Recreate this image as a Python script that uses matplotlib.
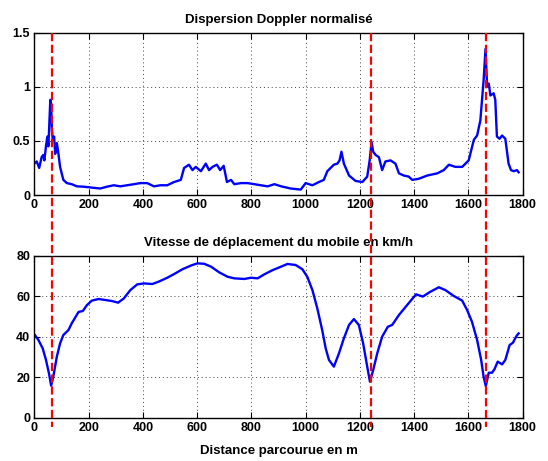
import numpy as np
import matplotlib
matplotlib.use("Agg")
import matplotlib.pyplot as plt
from matplotlib.lines import Line2D
from matplotlib.transforms import blended_transform_factory

plt.rcParams['font.family'] = ['Liberation Sans', 'DejaVu Sans']
plt.rcParams['font.weight'] = 'bold'

# normalised Doppler spread vs distance (m)
disp_x = [0, 9, 18, 27, 33, 37, 43, 48, 52, 56, 59, 62, 65, 68, 73, 77, 83, 89, 95,
          107, 120, 138, 157, 181, 206, 243, 268, 293, 317, 342, 367, 391, 416, 441,
          465, 490, 515, 540, 552, 570, 583, 595, 614, 632, 644, 657, 673, 685, 698,
          710, 725, 737, 762, 786, 811, 835, 860, 885, 910, 945, 982, 1000, 1025,
          1049, 1067, 1080, 1092, 1104, 1117, 1125, 1132, 1141, 1160, 1184, 1209,
          1227, 1236, 1243, 1249, 1258, 1270, 1282, 1294, 1313, 1331, 1344, 1362,
          1380, 1393, 1417, 1448, 1485, 1509, 1528, 1552, 1577, 1601, 1620, 1632,
          1644, 1656, 1663, 1669, 1675, 1681, 1693, 1699, 1705, 1715, 1724, 1736,
          1748, 1757, 1767, 1779, 1785]
disp_y = [0.29, 0.31, 0.25, 0.35, 0.37, 0.32, 0.45, 0.54, 0.45, 0.70, 0.88, 0.84, 0.60,
          0.51, 0.54, 0.38, 0.48, 0.38, 0.26, 0.14, 0.11, 0.10, 0.08, 0.077, 0.07,
          0.06, 0.077, 0.09, 0.08, 0.09, 0.10, 0.11, 0.11, 0.08, 0.09, 0.09, 0.12,
          0.14, 0.25, 0.28, 0.23, 0.26, 0.22, 0.29, 0.23, 0.26, 0.28, 0.23, 0.27,
          0.12, 0.14, 0.10, 0.11, 0.11, 0.10, 0.09, 0.08, 0.10, 0.08, 0.06, 0.05,
          0.11, 0.09, 0.12, 0.14, 0.22, 0.25, 0.28, 0.29, 0.32, 0.40, 0.29, 0.18,
          0.13, 0.12, 0.17, 0.32, 0.49, 0.40, 0.37, 0.35, 0.23, 0.31, 0.32, 0.29,
          0.20, 0.18, 0.17, 0.14, 0.15, 0.18, 0.20, 0.23, 0.28, 0.26, 0.26, 0.32,
          0.51, 0.55, 0.69, 1.06, 1.35, 1.00, 1.03, 0.92, 0.94, 0.88, 0.54, 0.52,
          0.55, 0.52, 0.29, 0.23, 0.22, 0.23, 0.21]

# speed of the mobile (km/h) vs distance (m)
speed_x = [0, 15, 31, 43, 54, 62, 70, 83, 95, 107, 126, 138, 151, 163, 179, 194, 212,
           237, 262, 286, 309, 330, 354, 379, 404, 435, 459, 490, 515, 546, 577, 601,
           626, 651, 681, 712, 737, 774, 799, 823, 848, 879, 910, 933, 963, 988, 1006,
           1025, 1043, 1061, 1074, 1086, 1104, 1123, 1141, 1160, 1178, 1196, 1212,
           1227, 1237, 1249, 1264, 1282, 1303, 1319, 1344, 1374, 1407, 1432, 1460,
           1491, 1515, 1546, 1577, 1595, 1613, 1632, 1647, 1656, 1664, 1675, 1687,
           1696, 1708, 1724, 1736, 1752, 1764, 1777, 1785]
speed_y = [41.2, 38.4, 34.2, 28.5, 21.9, 15.8, 20.2, 30.1, 36.7, 40.8, 43.3, 46.6,
           49.5, 52.2, 52.7, 55.6, 57.8, 58.6, 58.1, 57.6, 56.8, 58.9, 63.0, 65.8,
           66.3, 66.0, 67.2, 69.1, 70.9, 73.3, 75.1, 76.2, 76.0, 74.6, 71.8, 69.6,
           68.8, 68.5, 69.1, 68.8, 70.8, 72.9, 74.6, 75.9, 75.4, 73.3, 69.6, 63.0,
           54.0, 43.3, 34.2, 28.5, 25.2, 31.8, 39.2, 45.8, 48.7, 45.8, 36.7, 25.2,
           17.8, 23.5, 31.8, 40.0, 44.9, 45.8, 50.7, 55.6, 60.9, 59.8, 62.2, 64.4,
           63.0, 60.1, 57.8, 53.2, 47.4, 38.4, 28.5, 20.2, 15.6, 22.2, 22.2, 23.9,
           27.7, 26.3, 28.5, 35.9, 37.0, 40.3, 41.6]

# distances of the marked events (red dashed lines)
event_x = [64, 1242, 1666]

xticks = [0, 200, 400, 600, 800, 1000, 1200, 1400, 1600, 1800]

fig = plt.figure(figsize=(5.48, 4.61), dpi=100)
ax1 = fig.add_axes([0.0626, 0.577, 0.8912, 0.352])
ax2 = fig.add_axes([0.0626, 0.094, 0.8912, 0.3514])

ax1.plot(disp_x, disp_y, color=(0, 0, 1), lw=1.7)
ax1.set_ylim(0, 1.5)
ax1.set_yticks([0, 0.5, 1, 1.5])
ax1.set_yticklabels(['0', '0.5', '1', '1.5'])
ax1.set_title('Dispersion Doppler normalisé', fontsize=9.5, fontweight='bold', pad=7)

ax2.plot(speed_x, speed_y, color=(0, 0, 1), lw=1.7)
ax2.set_ylim(0, 80)
ax2.set_yticks([0, 20, 40, 60, 80])
ax2.set_title('Vitesse de déplacement du mobile en km/h', fontsize=9.5, fontweight='bold', pad=7)
ax2.set_xlabel('Distance parcourue en m', fontsize=9.5, fontweight='bold', labelpad=8)

for ax in (ax1, ax2):
    ax.set_xlim(0, 1800)
    ax.set_xticks(xticks)
    ax.grid(True, linestyle=(0, (1, 3)), color='#444444', lw=0.7)
    ax.tick_params(direction='in', top=True, right=True, length=4, width=0.8,
                   labelsize=9, pad=3)
    for lab in ax.get_xticklabels() + ax.get_yticklabels():
        lab.set_fontweight('bold')
    for sp in ax.spines.values():
        sp.set_linewidth(1.0)

# dashed red markers crossing both panels
trans = blended_transform_factory(ax1.transData, fig.transFigure)
for ex in event_x:
    fig.add_artist(Line2D([ex, ex], [0.929, 0.074], transform=trans,
                          color=(1, 0, 0), lw=1.6, ls='--', zorder=10))

fig.savefig('out.png', dpi=100)
